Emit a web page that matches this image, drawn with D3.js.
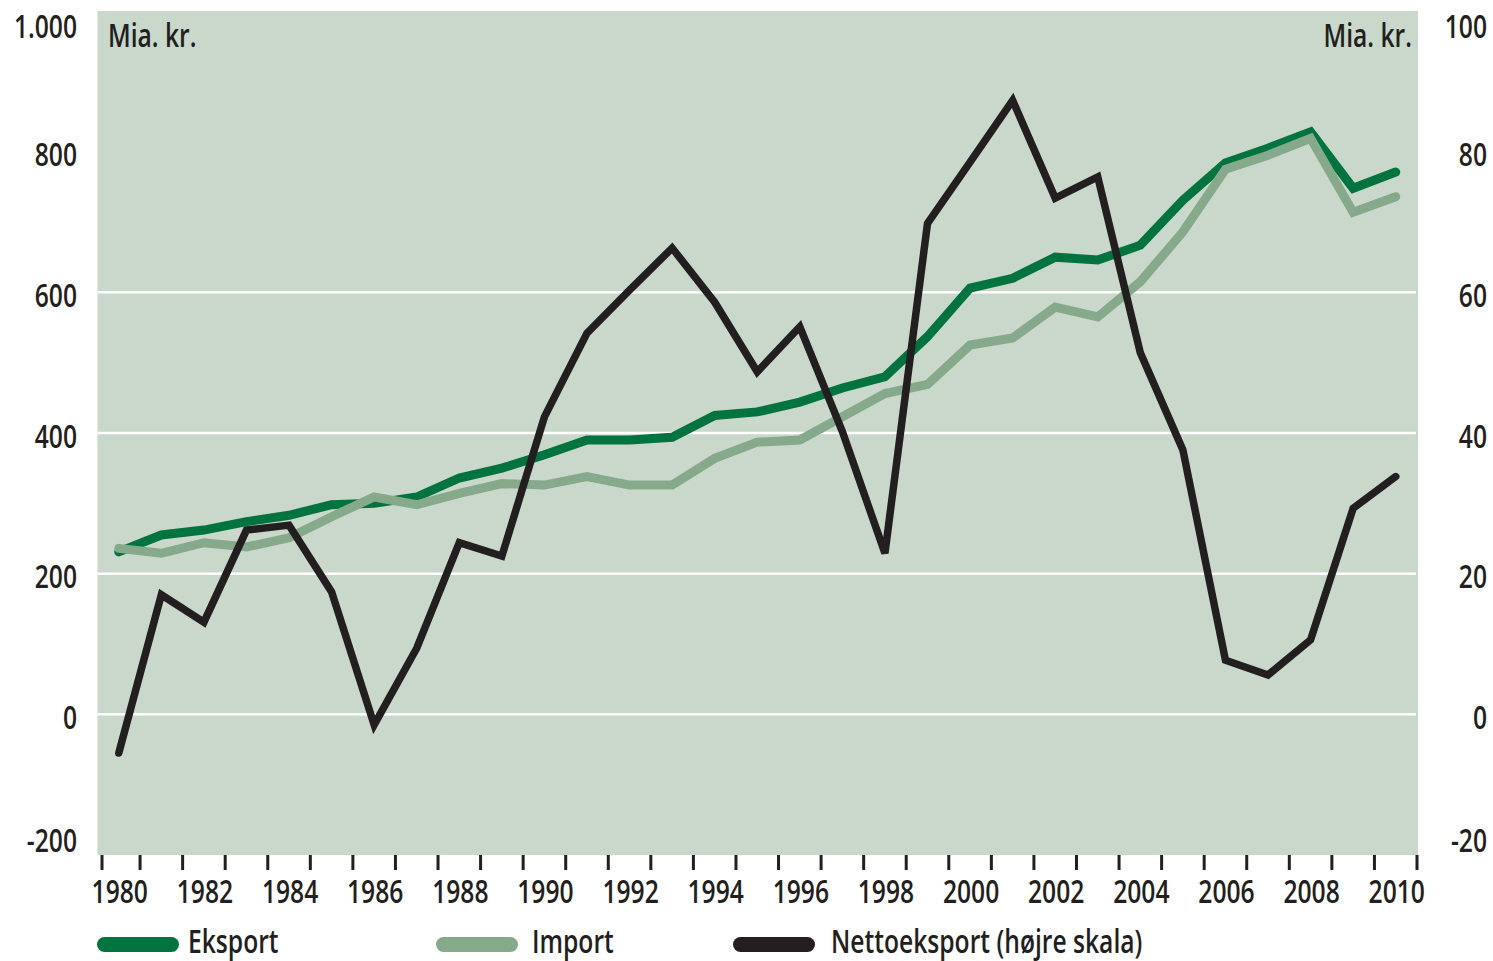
<!DOCTYPE html>
<html>
<head>
<meta charset="utf-8">
<script src="https://cdn.jsdelivr.net/npm/d3@7/dist/d3.min.js"></script>
<style>
  html, body { margin: 0; padding: 0; background: #ffffff; }
  svg { display: block; }
  text { font-family: "Open Sans", "Liberation Sans", "DejaVu Sans Condensed", sans-serif; fill: #231f20; font-weight: 600; }
</style>
</head>
<body>
<svg id="chart" width="1493" height="961"></svg>
<script>
// ---- data ----
const years = d3.range(1980, 2011);
const eksport = [231, 255, 262, 274, 283, 298, 300, 309, 336, 350,
                 369, 390, 390, 394, 425, 430, 444, 464, 480, 537,
                 606, 620, 650, 646, 667, 731, 784, 805, 828, 748, 771];
const importV = [236, 229, 244, 238, 251, 281, 309, 298, 314, 328,
                 326, 338, 326, 326, 364, 387, 390, 423, 456, 469,
                 525, 535, 579, 565, 615, 686, 775, 795, 819, 714, 736];
const netto   = [-5.5, 17.0, 13.1, 26.2, 26.9, 17.4, -1.5, 9.4, 24.4, 22.5,
                 42.3, 54.2, 60.3, 66.3, 58.6, 48.7, 55.1, 40.2, 22.9, 69.8,
                 78.5, 87.3, 73.4, 76.4, 51.4, 37.6, 7.7, 5.6, 10.6, 29.3, 33.8];
const leftTicks = [-200, 0, 200, 400, 600, 800, 1000];
const leftTickLabels = ["-200", "0", "200", "400", "600", "800", "1.000"];
const rightTicks = [-20, 0, 20, 40, 60, 80, 100];
const rightTickLabels = ["-20", "0", "20", "40", "60", "80", "100"];
const gridValues = [0, 200, 400, 600];
const xLabelYears = years.filter(y => y % 2 === 0);
const unitLabel = "Mia. kr.";
const legendItems = [
  { name: "Eksport", color: "#00733f" },
  { name: "Import", color: "#86a98c" },
  { name: "Nettoeksport (højre skala)", color: "#231f20" }
];

// ---- layout ----
const svg = d3.select("#chart");
const plot = { left: 97.5, right: 1418, top: 11, bottom: 855 };
const SX = 0.77;      // horizontal condensing of text
const FS = 32;

const x = d3.scaleLinear().domain([1979.5, 2010.5]).range([plot.left, 1417]);
const yL = d3.scaleLinear().domain([-200, 1000]).range([plot.bottom, plot.top]);
const yR = d3.scaleLinear().domain([-20, 100]).range([plot.bottom, plot.top]);

function addText(parent, tx, ty, str, anchor) {
  return parent.append("text")
    .attr("transform", `translate(${tx},${ty}) scale(${SX},1)`)
    .attr("text-anchor", anchor || "start")
    .attr("font-size", FS)
    .text(str);
}

// background
svg.append("rect")
  .attr("x", plot.left).attr("y", plot.top)
  .attr("width", plot.right - plot.left).attr("height", plot.bottom - plot.top)
  .attr("fill", "#c9d8cb");

// gridlines
svg.append("g").selectAll("line").data(gridValues).join("line")
  .attr("x1", plot.left).attr("x2", plot.right - 2)
  .attr("y1", d => yL(d)).attr("y2", d => yL(d))
  .attr("stroke", "#ffffff").attr("stroke-width", 2.5);

// x ticks at year boundaries
const tickBounds = d3.range(1979.5, 2011, 1);
svg.append("g").selectAll("line").data(tickBounds).join("line")
  .attr("x1", d => x(d) + (d === 1979.5 ? 4.5 : 0))
  .attr("x2", d => x(d) + (d === 1979.5 ? 4.5 : 0))
  .attr("y1", plot.bottom).attr("y2", plot.bottom + 15)
  .attr("stroke", "#231f20").attr("stroke-width", 3);

// x labels
const gx = svg.append("g");
xLabelYears.forEach(d => addText(gx, x(d) + 1, 903, String(d), "middle"));

// y labels
function labelY(py) { return Math.max(38, Math.min(852, py + 14.5)); }
const gy = svg.append("g");
leftTicks.forEach((d, i) => addText(gy, 77, labelY(yL(d)), leftTickLabels[i], "end"));
rightTicks.forEach((d, i) => addText(gy, 1487, labelY(yR(d)), rightTickLabels[i], "end"));

// unit labels
addText(svg, 108, 47, unitLabel, "start");
addText(svg, 1412, 47, unitLabel, "end");

// lines
const lineL = d3.line().x((d, i) => x(years[i])).y(d => yL(d));
const lineR = d3.line().x((d, i) => x(years[i])).y(d => yR(d));

svg.append("path").datum(eksport).attr("d", lineL)
  .attr("fill", "none").attr("stroke", legendItems[0].color)
  .attr("stroke-width", 9).attr("stroke-linejoin", "miter").attr("stroke-miterlimit", 4).attr("stroke-linecap", "round");
svg.append("path").datum(importV).attr("d", lineL)
  .attr("fill", "none").attr("stroke", legendItems[1].color)
  .attr("stroke-width", 9).attr("stroke-linejoin", "miter").attr("stroke-miterlimit", 4).attr("stroke-linecap", "round");
svg.append("path").datum(netto).attr("d", lineR)
  .attr("fill", "none").attr("stroke", legendItems[2].color)
  .attr("stroke-width", 7.5).attr("stroke-linejoin", "miter").attr("stroke-miterlimit", 4).attr("stroke-linecap", "round");

// legend
const legendX = [97, 436, 733];
const textX = [188, 532, 831];
const lg = svg.append("g");
legendItems.forEach((d, i) => {
  lg.append("line")
    .attr("x1", legendX[i] + 7.5).attr("x2", legendX[i] + 74.5)
    .attr("y1", 944.5).attr("y2", 944.5)
    .attr("stroke", d.color).attr("stroke-width", 15).attr("stroke-linecap", "round");
  addText(lg, textX[i], 953, d.name, "start");
});
</script>
</body>
</html>
